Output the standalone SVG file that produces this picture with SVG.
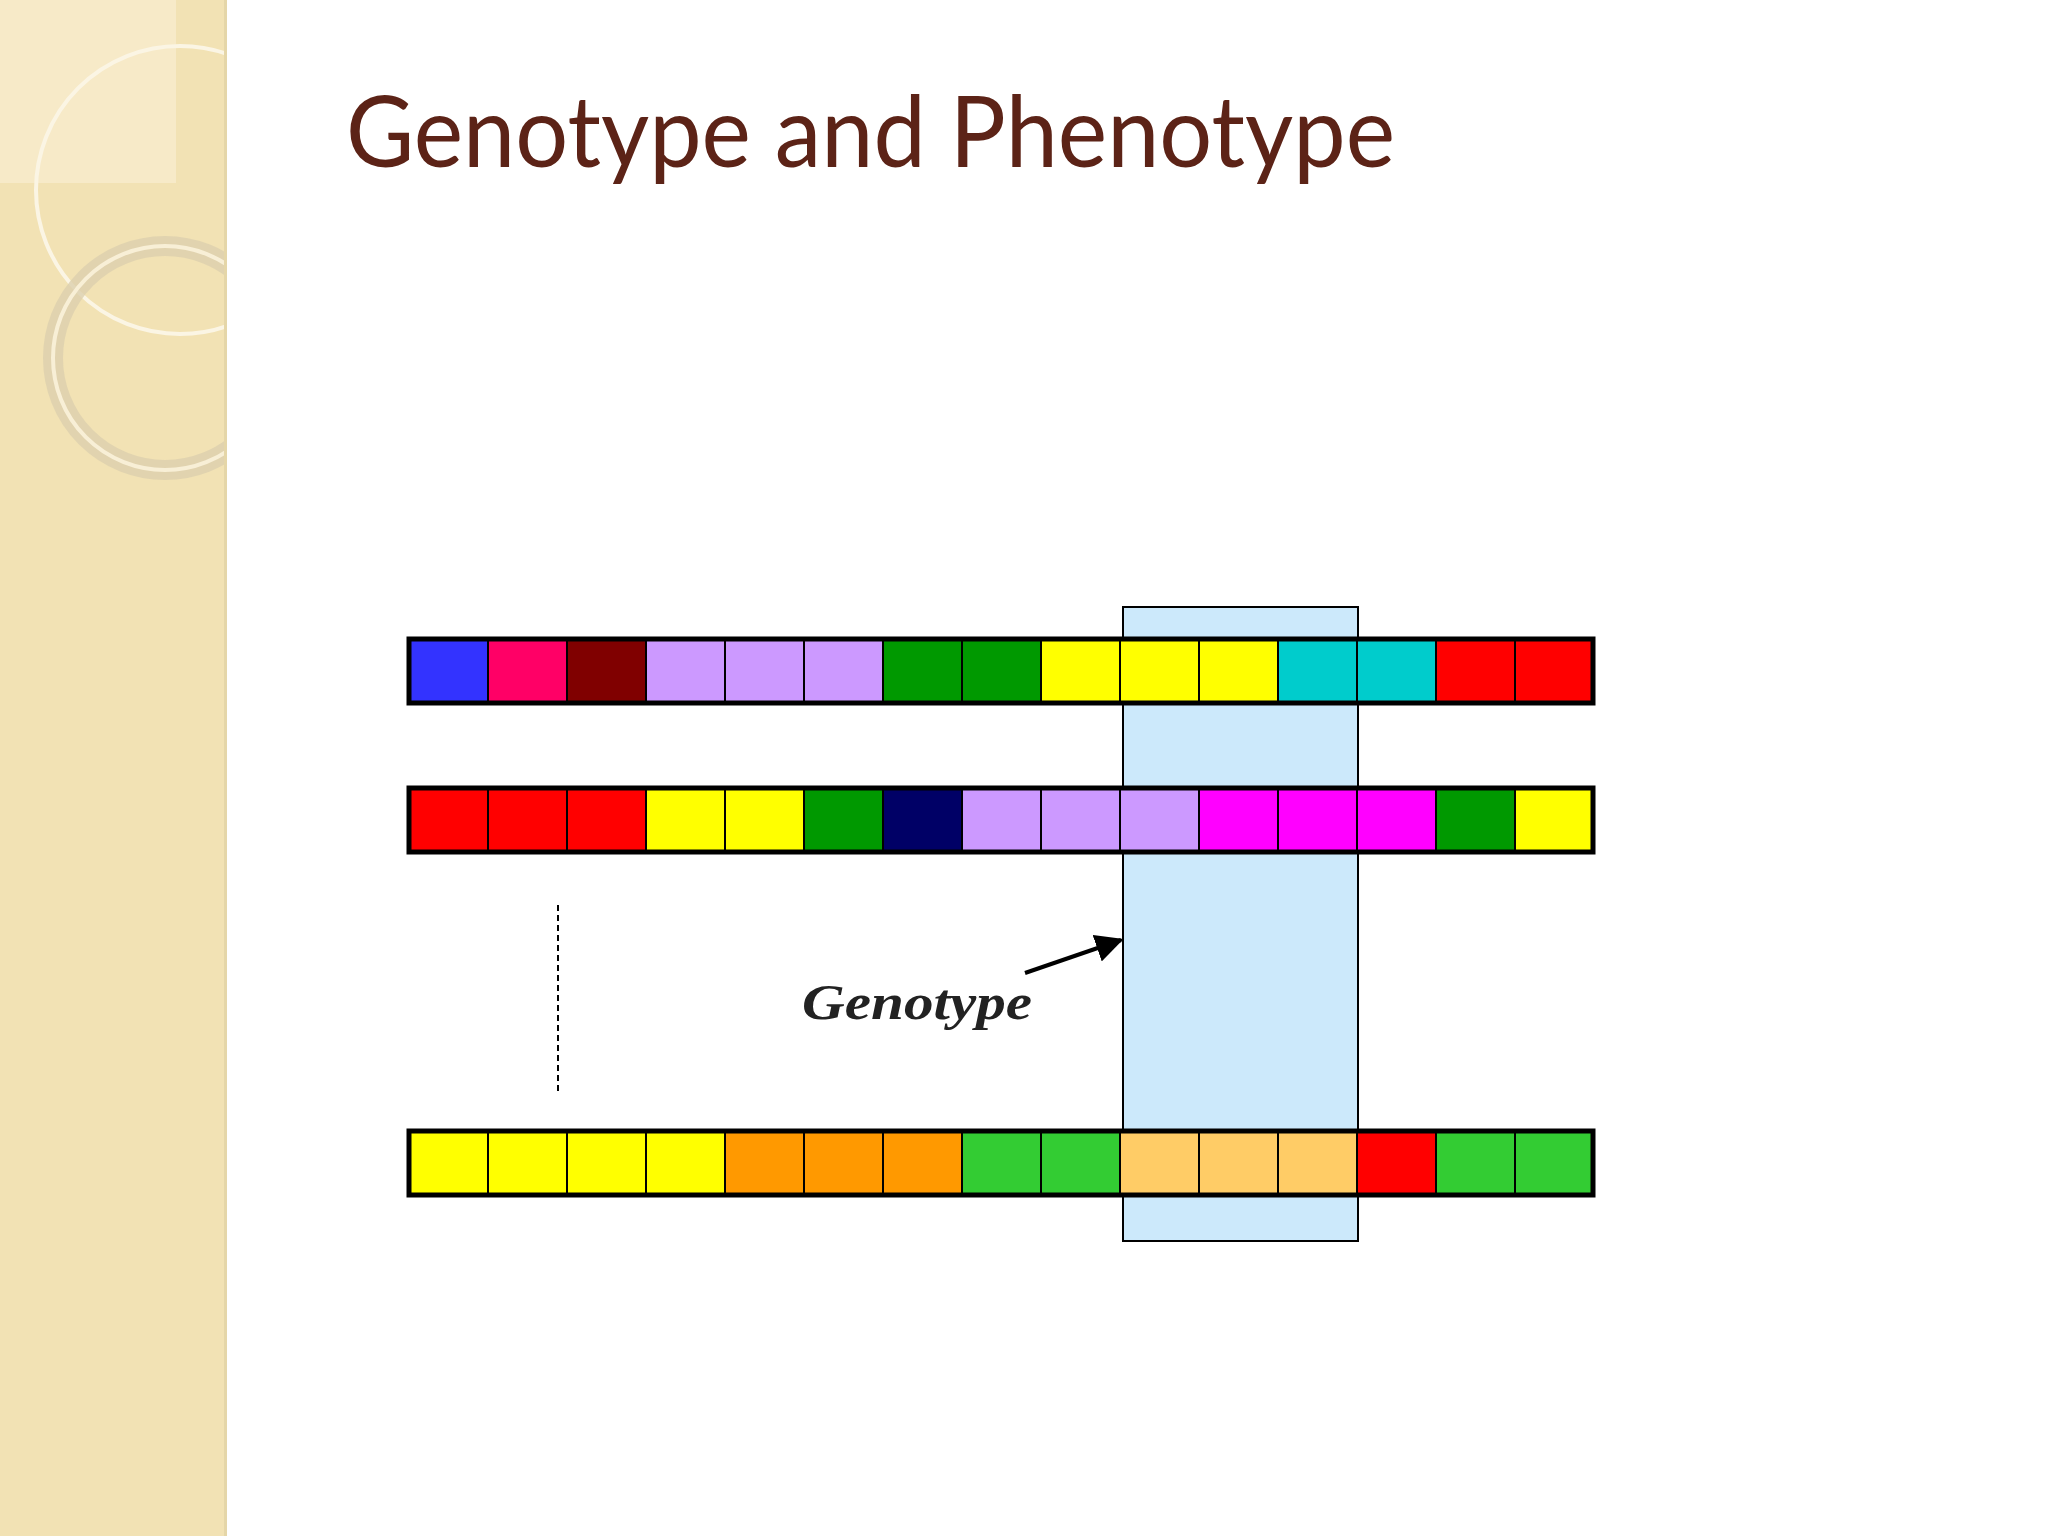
<svg xmlns="http://www.w3.org/2000/svg" width="2048" height="1536" viewBox="0 0 2048 1536">
<defs>
<style>
.c{stroke:#000;stroke-width:2}
.bar{fill:none;stroke:#000;stroke-width:5}
</style>
<marker id="ah" viewBox="0 0 10 10" refX="9" refY="5" markerWidth="7" markerHeight="7" orient="auto"><path d="M0,0 L10,5 L0,10 z" fill="#000"/></marker>
<clipPath id="lp"><rect x="0" y="0" width="227" height="1536"/></clipPath>
</defs>
<rect width="2048" height="1536" fill="#fff"/>
<g id="sidebar">
<rect x="0" y="0" width="227" height="1536" fill="#F2E2B4"/>
<g clip-path="url(#lp)">
<rect x="0" y="0" width="176" height="183" fill="#F7ECCD" opacity="0.8"/>
<circle cx="180" cy="190" r="144" fill="none" stroke="#FBF5E4" stroke-width="4"/>
<circle cx="165" cy="358" r="112" fill="none" stroke="#DCD0AE" stroke-width="20" opacity="0.8"/>
<circle cx="165" cy="358" r="112" fill="none" stroke="#F8EFD6" stroke-width="4"/>
</g>
<rect x="224" y="0" width="3" height="1536" fill="#E5D6A8"/>
</g>
<text id="title" x="346" y="167" font-family="Lato, 'Liberation Sans', sans-serif" font-size="98" fill="#5C2317" textLength="1049" lengthAdjust="spacingAndGlyphs">Genotype and Phenotype</text>
<g id="window"><rect x="1123" y="607" width="235" height="634" fill="#CCE9FB" stroke="#000" stroke-width="2"/></g>
<g id="row1" transform="translate(409,639)">
<rect class="c" x="0" width="79" height="64" fill="#3333FF"/>
<rect class="c" x="79" width="79" height="64" fill="#FF0066"/>
<rect class="c" x="158" width="79" height="64" fill="#800000"/>
<rect class="c" x="237" width="79" height="64" fill="#CC99FF"/>
<rect class="c" x="316" width="79" height="64" fill="#CC99FF"/>
<rect class="c" x="395" width="79" height="64" fill="#CC99FF"/>
<rect class="c" x="474" width="79" height="64" fill="#009900"/>
<rect class="c" x="553" width="79" height="64" fill="#009900"/>
<rect class="c" x="632" width="79" height="64" fill="#FFFF00"/>
<rect class="c" x="711" width="79" height="64" fill="#FFFF00"/>
<rect class="c" x="790" width="79" height="64" fill="#FFFF00"/>
<rect class="c" x="869" width="79" height="64" fill="#00CCCC"/>
<rect class="c" x="948" width="79" height="64" fill="#00CCCC"/>
<rect class="c" x="1027" width="79" height="64" fill="#FF0000"/>
<rect class="c" x="1106" width="78" height="64" fill="#FF0000"/>
<rect class="bar" x="0" y="0" width="1184" height="64"/>
</g>
<g id="row2" transform="translate(409,788)">
<rect class="c" x="0" width="79" height="64" fill="#FF0000"/>
<rect class="c" x="79" width="79" height="64" fill="#FF0000"/>
<rect class="c" x="158" width="79" height="64" fill="#FF0000"/>
<rect class="c" x="237" width="79" height="64" fill="#FFFF00"/>
<rect class="c" x="316" width="79" height="64" fill="#FFFF00"/>
<rect class="c" x="395" width="79" height="64" fill="#009900"/>
<rect class="c" x="474" width="79" height="64" fill="#000066"/>
<rect class="c" x="553" width="79" height="64" fill="#CC99FF"/>
<rect class="c" x="632" width="79" height="64" fill="#CC99FF"/>
<rect class="c" x="711" width="79" height="64" fill="#CC99FF"/>
<rect class="c" x="790" width="79" height="64" fill="#FF00FF"/>
<rect class="c" x="869" width="79" height="64" fill="#FF00FF"/>
<rect class="c" x="948" width="79" height="64" fill="#FF00FF"/>
<rect class="c" x="1027" width="79" height="64" fill="#009900"/>
<rect class="c" x="1106" width="78" height="64" fill="#FFFF00"/>
<rect class="bar" x="0" y="0" width="1184" height="64"/>
</g>
<g id="row3" transform="translate(409,1131)">
<rect class="c" x="0" width="79" height="64" fill="#FFFF00"/>
<rect class="c" x="79" width="79" height="64" fill="#FFFF00"/>
<rect class="c" x="158" width="79" height="64" fill="#FFFF00"/>
<rect class="c" x="237" width="79" height="64" fill="#FFFF00"/>
<rect class="c" x="316" width="79" height="64" fill="#FF9900"/>
<rect class="c" x="395" width="79" height="64" fill="#FF9900"/>
<rect class="c" x="474" width="79" height="64" fill="#FF9900"/>
<rect class="c" x="553" width="79" height="64" fill="#33CC33"/>
<rect class="c" x="632" width="79" height="64" fill="#33CC33"/>
<rect class="c" x="711" width="79" height="64" fill="#FFCC66"/>
<rect class="c" x="790" width="79" height="64" fill="#FFCC66"/>
<rect class="c" x="869" width="79" height="64" fill="#FFCC66"/>
<rect class="c" x="948" width="79" height="64" fill="#FF0000"/>
<rect class="c" x="1027" width="79" height="64" fill="#33CC33"/>
<rect class="c" x="1106" width="78" height="64" fill="#33CC33"/>
<rect class="bar" x="0" y="0" width="1184" height="64"/>
</g>
<g id="connectors">
<line x1="558" y1="905" x2="558" y2="1091" stroke="#000" stroke-width="2" stroke-dasharray="6,4"/>
<line x1="1025" y1="973" x2="1121" y2="940" stroke="#000" stroke-width="4" marker-end="url(#ah)"/>
</g>
<text id="label" x="802" y="1019" font-family="'Liberation Serif', serif" font-style="italic" font-weight="bold" font-size="50" fill="#222" textLength="230" lengthAdjust="spacingAndGlyphs">Genotype</text>
</svg>
